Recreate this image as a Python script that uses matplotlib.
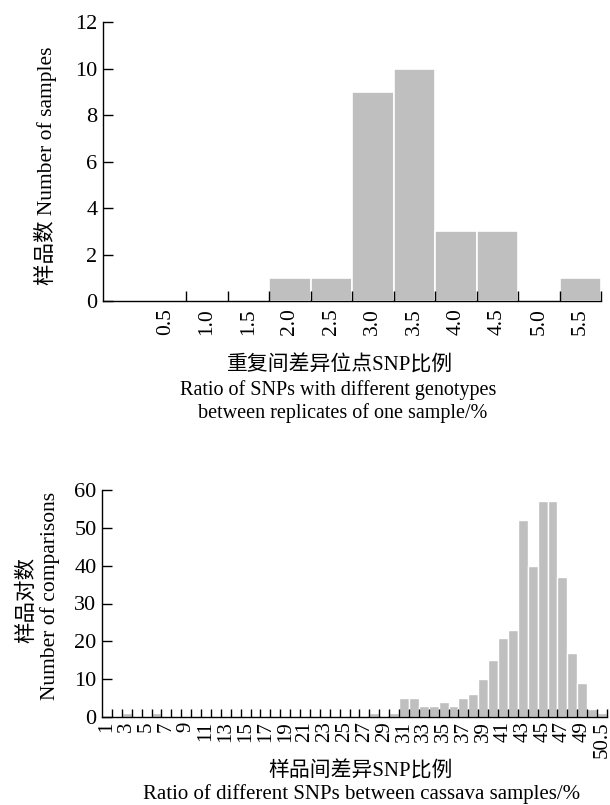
import matplotlib
matplotlib.use('Agg')
import matplotlib.pyplot as plt
import numpy as np

plt.rcParams['font.family'] = ['Liberation Serif', 'Noto Sans CJK SC']
plt.rcParams['font.size'] = 14.5

# top histogram: ratio of differing SNPs between replicates (%)
rep_labels = ['', '0.5', '1.0', '1.5', '2.0', '2.5', '3.0', '3.5', '4.0', '4.5', '5.0', '5.5']
rep_counts = [0, 0, 0, 0, 1, 1, 9, 10, 3, 3, 0, 1]

# bottom histogram: ratio of differing SNPs between samples (%)
cmp_labels = [str(i) for i in range(1, 51)] + ['50.5']
cmp_counts = [0, 0, 1, 0, 0, 1, 0, 0, 0, 0,
              0, 0, 0, 0, 0, 0, 0, 0, 0, 0,
              0, 0, 0, 0, 0, 0, 0, 1, 0, 1,
              5, 5, 3, 3, 4, 3, 5, 6, 10, 15,
              21, 23, 52, 40, 57, 57, 37, 17, 9, 2,
              1]

bar_color = '#bfbfbf'

fig = plt.figure(figsize=(6.1, 8.05), dpi=100)


def style_axes(ax):
    ax.spines['top'].set_visible(False)
    ax.spines['right'].set_visible(False)
    ax.spines['left'].set_linewidth(1.0)
    ax.spines['bottom'].set_linewidth(1.0)
    ax.tick_params(axis='y', direction='in', length=7, width=1, pad=4, labelsize=16)


# ---- top chart ----
ax1 = fig.add_axes([103 / 610, 1 - 301 / 805, 498 / 610, 279 / 805])
n1 = len(rep_counts)
x1 = np.arange(n1) + 0.5
ax1.bar(x1, rep_counts, width=1.0, color=bar_color, edgecolor='white', linewidth=1.2)
ax1.set_xlim(0, n1)
ax1.set_ylim(0, 12)
ax1.set_yticks(range(0, 13, 2))
ax1.set_xticks(np.arange(2, n1 + 1))
ax1.set_xticklabels([])
ax1.set_xticks(x1[1:], minor=True)
ax1.set_xticklabels(rep_labels[1:], minor=True, rotation=90)
ax1.tick_params(axis='x', which='major', direction='in', length=7, width=1)
ax1.tick_params(axis='x', which='minor', length=0, pad=5, labelsize=15.5)
style_axes(ax1)

fig.text(340 / 610, 1 - 366 / 805, '重复间差异位点SNP比例', ha='center', va='center', fontsize=15)
fig.text(338 / 610, 1 - 390 / 805, 'Ratio of SNPs with different genotypes', ha='center', va='center')
fig.text(343 / 610, 1 - 413 / 805, 'between replicates of one sample/%', ha='center', va='center')
fig.text(45 / 610, 1 - 166 / 805, '样品数 Number of samples', rotation=90, ha='center', va='center',
         fontsize=15.5)

# ---- bottom chart ----
ax2 = fig.add_axes([102 / 610, 1 - 717 / 805, 505 / 610, 227 / 805])
n2 = len(cmp_counts)
x2 = np.arange(n2) + 0.5
ax2.bar(x2, cmp_counts, width=1.0, color=bar_color, edgecolor='white', linewidth=1.0)
ax2.set_xlim(0, n2)
ax2.set_ylim(0, 60)
ax2.set_yticks(range(0, 61, 10))
ax2.set_xticks(np.arange(1, n2 + 1))
ax2.set_xticklabels([])
lab_idx = list(range(0, 50, 2)) + [n2 - 1]
ax2.set_xticks(x2[lab_idx], minor=True)
ax2.set_xticklabels([cmp_labels[i] for i in lab_idx], minor=True, rotation=90)
ax2.tick_params(axis='x', which='major', direction='in', length=6, width=1)
ax2.tick_params(axis='x', which='minor', length=0, pad=3, labelsize=15)
style_axes(ax2)

fig.text(361 / 610, 1 - 772 / 805, '样品间差异SNP比例', ha='center', va='center', fontsize=15)
fig.text(362 / 610, 1 - 794 / 805, 'Ratio of different SNPs between cassava samples/%', ha='center',
         va='center', fontsize=15)
fig.text(27 / 610, 1 - 600 / 805, '样品对数', rotation=90, ha='center', va='center', fontsize=15.5)
fig.text(50 / 610, 1 - 596 / 805, 'Number of comparisons', rotation=90, ha='center', va='center',
         fontsize=15.5)

fig.savefig('out.png', dpi=100)
